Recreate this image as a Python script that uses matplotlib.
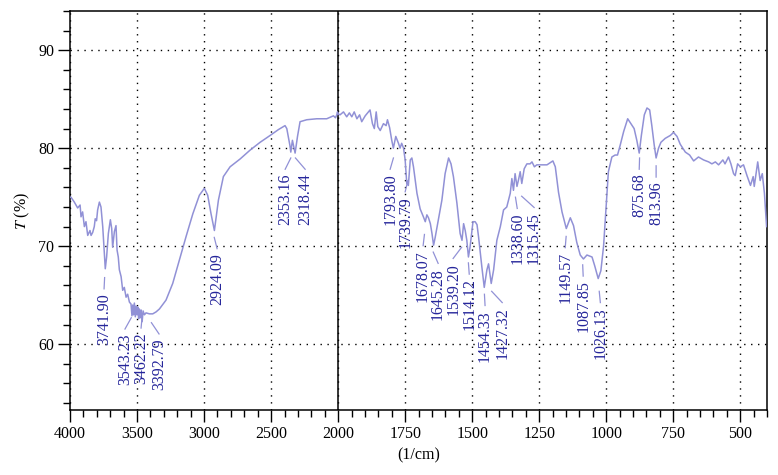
import numpy as np
import matplotlib
matplotlib.use("Agg")
import matplotlib.pyplot as plt
from matplotlib.ticker import FixedLocator, MultipleLocator

plt.rcParams['font.family'] = ['Liberation Serif', 'DejaVu Serif']
plt.rcParams['mathtext.fontset'] = 'stix'

# spectrum: wavenumber (1/cm) and transmittance (%)
wavenumber = [
    3998, 3993, 3968, 3943, 3925, 3918, 3906, 3893, 3881, 3868, 3851, 3843, 3831,
    3819, 3812, 3802, 3794, 3781, 3769, 3756, 3744, 3737, 3727, 3714, 3699, 3689,
    3682, 3669, 3657, 3649, 3640, 3632, 3619, 3607, 3595, 3582, 3570, 3557, 3545,
    3538, 3532, 3526, 3520, 3513, 3507, 3500, 3495, 3488, 3483, 3476, 3470, 3462,
    3455, 3445, 3433, 3408, 3383, 3358, 3333, 3284,
    3234, 3184, 3134, 3084, 3035, 2998, 2973, 2948, 2923, 2893, 2856, 2806, 2731,
    2657, 2582, 2507, 2445, 2396, 2383, 2360, 2353, 2341, 2321, 2303, 2284, 2234,
    2159, 2085, 2035, 2020, 2010, 2005, 2000,
    1993, 1980, 1968, 1958, 1949, 1940, 1930, 1920, 1912, 1899, 1887, 1881, 1872,
    1865, 1858, 1852, 1843, 1831, 1821, 1816, 1808, 1800, 1794, 1785, 1775, 1769,
    1763, 1756, 1750, 1744, 1738, 1731, 1725, 1719, 1706, 1694, 1682, 1675, 1669,
    1663, 1656, 1650, 1644, 1638, 1626, 1613, 1601, 1588, 1579, 1570, 1557, 1545,
    1538, 1532, 1526, 1520, 1514, 1508, 1497, 1489, 1482, 1476, 1464, 1455, 1445,
    1439, 1429, 1420, 1408, 1395, 1383, 1371, 1358, 1352, 1346, 1340, 1333, 1327,
    1321, 1315, 1306, 1296, 1284, 1277, 1268, 1259, 1234, 1221, 1199, 1190, 1178,
    1165, 1149, 1134, 1122, 1110, 1097, 1085, 1072, 1053, 1043, 1030, 1020, 1010,
    1004, 992, 979, 967, 958, 948, 935, 920, 908, 896, 886, 877, 869, 858, 848,
    838, 830, 821, 814, 805, 796, 780, 761, 749, 736, 724, 705, 689, 674, 656,
    637, 618, 606, 593, 581, 565, 557, 544, 535, 525, 519, 510, 500, 488, 475,
    462, 452, 448, 435, 426, 418, 410, 402,
]
transmittance = [
    75.0, 75.0, 74.5, 73.9, 74.2, 73.0, 73.5, 72.0, 72.5, 71.1, 71.6, 71.1, 71.4,
    72.0, 72.8, 72.6, 73.7, 74.5, 74.0, 72.0, 69.3, 67.7, 68.9, 71.3, 72.7, 71.8,
    69.9, 71.5, 72.1, 69.6, 68.9, 67.6, 66.9, 65.5, 65.8, 64.8, 65.1, 64.3, 64.1,
    62.9, 64.0, 63.0, 64.2, 62.8, 63.9, 63.0, 63.8, 62.6, 63.6, 62.7, 63.5, 62.3,
    63.4, 63.0, 63.2, 63.1, 63.1, 63.3, 63.6, 64.5,
    66.2, 68.6, 71.0, 73.3, 75.2, 75.9, 75.2, 73.3, 71.6, 74.7, 77.1, 78.1, 78.9,
    79.8, 80.6, 81.3, 81.9, 82.3, 82.0, 80.3, 79.6, 80.8, 79.5, 81.2, 82.7, 82.9,
    83.0, 83.0, 83.3, 83.1, 83.4, 83.7, 83.5,
    83.4, 83.7, 83.2, 83.6, 83.2, 83.7, 83.0, 83.4, 82.7, 83.3, 83.7, 83.9, 82.5,
    82.0, 83.7, 82.2, 81.8, 82.5, 82.3, 82.9, 82.1, 80.8, 80.0, 81.2, 80.5, 80.0,
    80.5, 80.0, 78.8, 76.4, 76.2, 78.8, 79.0, 78.1, 75.4, 73.8, 73.0, 72.5, 73.2,
    72.9, 72.3, 71.3, 70.1, 70.9, 72.7, 74.7, 77.4, 79.0, 78.4, 77.1, 74.4, 71.3,
    70.6, 72.3, 71.6, 70.6, 68.9, 69.9, 72.5, 72.5, 72.2, 70.9, 67.9, 65.8, 67.6,
    68.2, 66.2, 67.6, 70.6, 72.0, 73.7, 74.0, 75.4, 76.9, 75.7, 77.4, 76.1, 76.8,
    77.6, 76.4, 77.9, 78.4, 78.4, 78.6, 78.1, 78.3, 78.3, 78.3, 78.7, 78.1, 75.5,
    73.5, 71.8, 72.9, 72.1, 70.4, 69.1, 68.7, 69.1, 68.9, 68.0, 66.7, 67.5, 70.0,
    72.5, 77.6, 79.1, 79.3, 79.3, 80.3, 81.7, 83.0, 82.5, 82.0, 80.8, 79.5, 81.3,
    83.4, 84.1, 83.9, 82.3, 80.3, 79.0, 80.0, 80.6, 81.0, 81.3, 81.6, 81.2, 80.4,
    79.6, 79.3, 78.7, 79.1, 78.8, 78.6, 78.4, 78.6, 78.3, 78.8, 78.4, 79.1, 78.4,
    77.4, 77.2, 78.4, 78.1, 78.3, 77.2, 76.2, 77.1, 76.1, 78.6, 76.7, 77.4, 75.4,
    72.0,
]

# peak labels and the positions of their rotated text (wavenumber, top of text in %)
peak_labels = ["3741.90", "3543.23", "3462.22", "3392.79", "2924.09", "2353.16",
               "2318.44", "1793.80", "1739.79", "1678.07", "1645.28", "1539.20",
               "1514.12", "1454.33", "1427.32", "1338.60", "1315.45", "1149.57",
               "1087.85", "1026.13", "875.68", "813.96"]
label_x = [3746, 3590, 3470, 3336, 2903, 2395, 2246, 1806, 1750, 1683, 1627,
           1571, 1511, 1452, 1388, 1332, 1269, 1153, 1086, 1022, 877, 814]
label_top = [65.2, 61.1, 61.2, 60.6, 69.3, 77.4, 77.4, 77.4, 75.1, 69.6, 67.8,
             68.3, 66.7, 63.5, 63.8, 73.4, 73.5, 69.4, 66.5, 63.8, 77.4, 76.6]

x_major = [4000, 3500, 3000, 2500, 2000, 1750, 1500, 1250, 1000, 750, 500]
y_major = [60, 70, 80, 90]


def fwd(x):
    x = np.asarray(x, dtype=float)
    return np.where(x > 2000, 2000 + (x - 2000) / 2.0, x)


def inv(x):
    x = np.asarray(x, dtype=float)
    return np.where(x > 2000, 2000 + (x - 2000) * 2.0, x)


line_col = '#9191d6'
text_col = '#25259a'

fig = plt.figure(figsize=(7.78, 4.75), dpi=100)
ax = fig.add_axes([0.090, 0.137, 0.896, 0.840])
ax.set_xscale('function', functions=(fwd, inv))

ax.plot(wavenumber, transmittance, color=line_col, lw=1.1, zorder=3)

for s, lx, top in zip(peak_labels, label_x, label_top):
    pk = float(s)
    ax.plot([lx, pk], [top + 0.45, top + 1.6], color=line_col, lw=0.9, zorder=3)
    ax.text(lx, top, s, rotation=90, ha='center', va='top', color=text_col,
            fontsize=11.5, zorder=4)

ax.set_xlim(4000, 400)
ax.set_ylim(53.3, 94)

minor_x = [v for v in range(3900, 2000, -100) if v not in x_major]
minor_x += [v for v in range(1950, 399, -50) if v not in x_major]
ax.xaxis.set_major_locator(FixedLocator(x_major))
ax.xaxis.set_minor_locator(FixedLocator(minor_x))
ax.xaxis.set_major_formatter(plt.FuncFormatter(lambda v, p: f"{v:.0f}"))
ax.yaxis.set_major_locator(FixedLocator(y_major))
ax.yaxis.set_minor_locator(MultipleLocator(2))

ax.grid(True, which='major', color='k', linestyle=(0, (1, 4)), linewidth=1.0)
ax.axvline(2000, color='k', lw=1.1, zorder=2)

ax.tick_params(which='both', top=False, right=False)
ax.tick_params(which='major', direction='out', length=8.5, width=1.0,
               labelsize=11.5, pad=3)
ax.tick_params(which='minor', direction='out', length=5, width=1.0)
for sp in ax.spines.values():
    sp.set_linewidth(1.1)

ax.set_xlabel("(1/cm)", fontsize=11.5, labelpad=4)
ax.set_ylabel("$T$ (%)", fontsize=11.5, labelpad=4)

fig.savefig("out.png", dpi=100)
